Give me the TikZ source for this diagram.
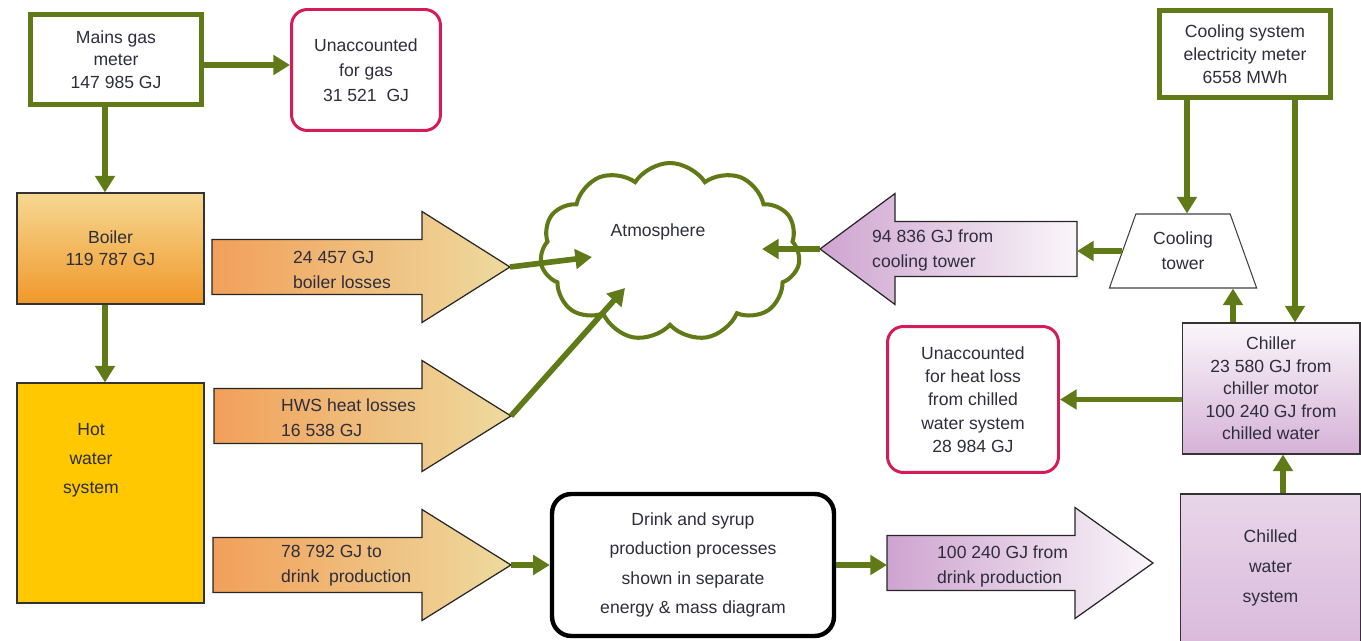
\documentclass[tikz,border=0pt]{standalone}
\usepackage{fontspec}
\setmainfont{Liberation Sans}
\usetikzlibrary{arrows.meta}
\usetikzlibrary{calc}
\usetikzlibrary{shapes.geometric}
\usetikzlibrary{shapes.symbols}

\definecolor{pipegreen}{RGB}{96,122,24}
\definecolor{losspink}{RGB}{214,28,86}
\definecolor{inkgray}{RGB}{45,45,60}
\definecolor{boilertop}{RGB}{246,216,146}
\definecolor{boilerbot}{RGB}{240,152,42}
\definecolor{hotgold}{RGB}{255,200,0}
\definecolor{heatorange}{RGB}{241,160,90}
\definecolor{heatkhaki}{RGB}{238,218,158}
\definecolor{coolmauve}{RGB}{206,164,208}
\definecolor{coolwhite}{RGB}{250,246,250}

\tikzset{
  every node/.style = {font=\fontsize{10}{13.2}\selectfont, text=inkgray, align=center}
}
\tikzset{
  meter/.style = {draw=pipegreen, line width=2.8pt},
  lossbox/.style = {draw=losspink, line width=1.7pt, rounded corners=9pt},
  plant/.style = {draw=black!80, line width=0.6pt},
  heatflow/.style = {draw=black!85, line width=0.7pt, left color=heatorange, right color=heatkhaki},
  coolflow/.style = {draw=black!85, line width=0.7pt, left color=coolmauve, right color=coolwhite},
  flowtext/.style = {anchor=west, align=left, font=\fontsize{10}{14.2}\selectfont}
}
\tikzset{
  pipe/.style = {draw=pipegreen, line width=3.2pt, -{Triangle[length=9.5pt,width=11pt]}}
}
% big block arrow: name, style, tail x, neck x, tip x, centre y
\newcommand{\flowblock}[6]{
  \draw[#2] (#3,#6-27.5) -- (#4,#6-27.5) -- (#4,#6-55.5) -- (#5,#6)
    -- (#4,#6+55.5) -- (#4,#6+27.5) -- (#3,#6+27.5) -- cycle;
  \coordinate (#1 tail) at (#3,#6);
  \coordinate (#1 tip) at (#5,#6);
}

\begin{document}
\begin{tikzpicture}[x=0.02cm, y=-0.02cm]
  \useasboundingbox (0,0) rectangle (1361,641);

  % gas side
  \node[meter, minimum width=3.42cm, minimum height=1.8cm,
    font=\fontsize{10}{12.8}\selectfont] (mains) at (116,59.5)
    {Mains gas\\meter\\147 985 GJ};
  \node[lossbox, minimum width=2.98cm, minimum height=2.42cm,
    font=\fontsize{10}{14.2}\selectfont] (gasloss) at (366,70)
    {Unaccounted\\for gas\\31 521~ GJ};
  \node[plant, top color=boilertop, bottom color=boilerbot,
    minimum width=3.74cm, minimum height=2.22cm,
    font=\fontsize{10}{12.5}\selectfont] (boiler) at (110.5,248.5)
    {Boiler\\119 787 GJ};
  \node[plant, fill=hotgold, minimum width=3.74cm, minimum height=4.4cm]
    (hotwater) at (110.5,493) {};
  \node[font=\fontsize{10}{16.5}\selectfont] (hotwatertext) at (91,460)
    {Hot\\water\\system};

  \flowblock{boilerloss}{heatflow}{212}{422}{510}{267}
  \flowblock{hwsloss}{heatflow}{214}{422}{511}{416}
  \flowblock{hotdrink}{heatflow}{213}{422}{511}{565}
  \node[flowtext] (boilerlosstext) at (287,269.5) {24 457 GJ\\boiler losses};
  \node[flowtext] (hwslosstext) at (275,417.5) {HWS heat losses\\16 538 GJ};
  \node[flowtext] (hotdrinktext) at (275,565.5) {78 792 GJ to\\drink~ production};

  % atmosphere
  \node[draw=pipegreen, line width=2.3pt, cloud, cloud puffs=11,
    cloud puff arc=115, cloud ignores aspect,
    minimum width=5.2cm, minimum height=3.56cm] (atm) at (670,252) {};
  \node (atmtext) at (658,232) {Atmosphere};

  % production
  \node[draw=black, line width=2.5pt, rounded corners=11pt,
    minimum width=5.64cm, minimum height=2.84cm,
    font=\fontsize{10}{16.8}\selectfont] (drink) at (693,565)
    {Drink and syrup\\production processes\\shown in separate\\energy \& mass diagram};

  % cooling side
  \node[meter, minimum width=3.42cm, minimum height=1.74cm] (coolmeter) at (1245,54)
    {Cooling system\\electricity meter\\6558 MWh};
  \node[plant, draw=black!75, trapezium, trapezium angle=68, trapezium stretches=true,
    minimum width=2.96cm, minimum height=1.48cm,
    font=\fontsize{10}{14.2}\selectfont] (tower) at (1183,251)
    {Cooling\\tower};
  \node[plant, top color=coolwhite, bottom color=coolmauve!85,
    minimum width=3.56cm, minimum height=2.62cm,
    font=\fontsize{10}{12.8}\selectfont] (chiller) at (1271,388.5)
    {Chiller\\23 580 GJ from\\chiller motor\\100 240 GJ from\\chilled water};
  \node[lossbox, minimum width=3.42cm, minimum height=2.92cm,
    font=\fontsize{10}{13.3}\selectfont] (heatloss) at (973,399.5)
    {Unaccounted\\for heat loss\\from chilled\\water system\\28 984 GJ};
  \node[plant, top color=coolwhite!60!coolmauve, bottom color=coolmauve!75,
    minimum width=3.62cm, minimum height=2.96cm,
    font=\fontsize{10}{17}\selectfont] (chilled) at (1270.5,568)
    {Chilled\\water\\system};

  \flowblock{towerloss}{coolflow}{1077}{895}{820}{249}
  \flowblock{drinkchill}{coolflow}{887}{1075}{1153}{563}
  \node[flowtext] (towerlosstext) at (866,250.5) {94 836 GJ from\\cooling tower};
  \node[flowtext] (drinkchilltext) at (931,566.5) {100 240 GJ from\\drink production};

  % connectors
  \draw[pipe] ($(mains.east)+(0,5.5)$) -- ($(mains.east -| gasloss.west)+(0,5.5)$);
  \draw[pipe] ($(mains.south)+(-11,0)$) -- ($(mains.south |- boiler.north)+(-11,0)$);
  \draw[pipe] ($(boiler.south)+(-5.5,0)$) -- ($(boiler.south |- hotwater.north)+(-5.5,0)$);
  \draw[pipe] (boilerloss tip) -- ([shift={(-78,5)}]atm.center);
  \draw[pipe] (hwsloss tip) -- ([shift={(-45,36)}]atm.center);
  \draw[pipe] (towerloss tip) -- ([shift={(92,-3)}]atm.center);
  \draw[pipe] (hotdrink tip) -- (drink.west);
  \draw[pipe] (drink.east) -- (drink.east -| drinkchill tail);
  \draw[pipe] (tower.west) -- (tower.west -| towerloss tail);
  \draw[pipe] ($(coolmeter.south)+(-58,0)$) -- ($(coolmeter.south |- tower.north)+(-58,0)$);
  \draw[pipe] ($(coolmeter.south)+(50,0)$) -- ($(coolmeter.south |- chiller.north)+(50,0)$);
  \draw[pipe] ($(chiller.north)+(-38,0)$) -- ($(chiller.north |- tower.south)+(-38,0)$);
  \draw[pipe] (chiller.west |- heatloss.east) -- (heatloss.east);
  \draw[pipe] ($(chilled.north)+(12.5,0)$) -- ($(chilled.north |- chiller.south)+(12.5,0)$);
\end{tikzpicture}
\end{document}
